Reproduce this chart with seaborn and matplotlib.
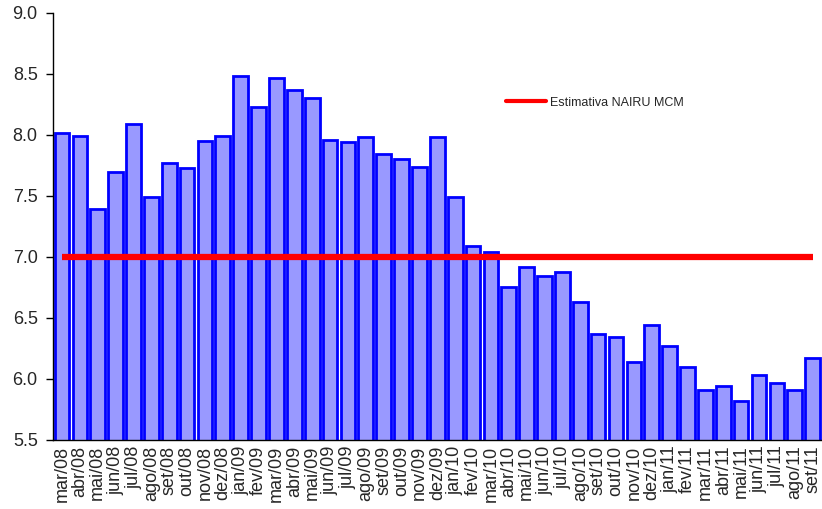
import matplotlib
matplotlib.use("Agg")
import matplotlib.pyplot as plt
import numpy as np
import pandas as pd
import seaborn as sns
from matplotlib.lines import Line2D

# Data
months = [
    "mar/08", "abr/08", "mai/08", "jun/08", "jul/08", "ago/08", "set/08", "out/08",
    "nov/08", "dez/08", "jan/09", "fev/09", "mar/09", "abr/09", "mai/09", "jun/09",
    "jul/09", "ago/09", "set/09", "out/09", "nov/09", "dez/09", "jan/10", "fev/10",
    "mar/10", "abr/10", "mai/10", "jun/10", "jul/10", "ago/10", "set/10", "out/10",
    "nov/10", "dez/10", "jan/11", "fev/11", "mar/11", "abr/11", "mai/11", "jun/11",
    "jul/11", "ago/11", "set/11",
]
unemployment = [
    8.02, 7.99, 7.39, 7.70, 8.09, 7.49, 7.77, 7.73, 7.95, 7.99,
    8.48, 8.23, 8.47, 8.37, 8.30, 7.96, 7.94, 7.98, 7.84, 7.80,
    7.74, 7.98, 7.49, 7.09, 7.04, 6.75, 6.92, 6.84, 6.88, 6.63,
    6.37, 6.34, 6.14, 6.44, 6.27, 6.10, 5.91, 5.94, 5.82, 6.03,
    5.97, 5.91, 6.17,
]
nairu = 7.0
nairu_label = "Estimativa NAIRU MCM"

df = pd.DataFrame({"mes": months, "taxa": unemployment})

sns.set_style("white")
plt.rcParams["font.family"] = ["Liberation Sans", "DejaVu Sans"]

fig = plt.figure(figsize=(8.22, 5.09), dpi=100)
ax = fig.add_axes([0.0645, 0.1356, 0.935, 0.8389])

sns.barplot(data=df, x="mes", y="taxa", color="#9999FF", edgecolor="#0000FF",
            linewidth=2, width=0.82, saturation=1, ax=ax)

ax.hlines(nairu, 0, len(months) - 1, color="#FF0000", linewidth=4.5, zorder=5)

ax.set_ylim(5.5, 9.0)
ax.set_xlim(-0.5, len(months) - 0.5)
ax.set_yticks(np.arange(5.5, 9.01, 0.5))
ax.set_yticklabels([f"{v:.1f}" for v in np.arange(5.5, 9.01, 0.5)], fontsize=13)
ax.set_xticks(range(len(months)))
ax.set_xticklabels(months, rotation=90, fontsize=13)
ax.set_xticks(np.arange(-0.5, len(months), 1), minor=True)
ax.tick_params(axis="x", which="major", length=0, pad=4)
ax.tick_params(axis="x", which="minor", length=5, width=1, color="black", direction="out")
ax.tick_params(axis="y", length=5, width=1, color="black", direction="out", left=True, pad=6)
ax.set_xlabel("")
ax.set_ylabel("")

for side in ["top", "right"]:
    ax.spines[side].set_visible(False)
for side in ["left", "bottom"]:
    ax.spines[side].set_color("black")
    ax.spines[side].set_linewidth(1)

handle = Line2D([], [], color="#FF0000", linewidth=3)
ax.legend([handle], [nairu_label], loc="center left", bbox_to_anchor=(0.575, 0.79),
          frameon=False, fontsize=9, handlelength=3.2, handletextpad=0.3)

fig.savefig("out.png", dpi=100)
